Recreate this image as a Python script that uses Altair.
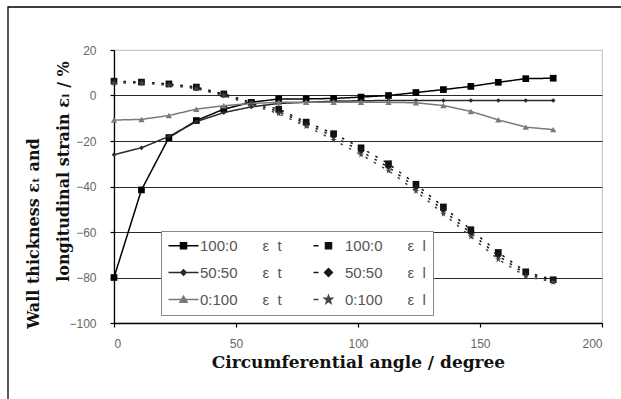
import altair as alt
import pandas as pd

# ---------------- data ----------------
angles = [0, 11.25, 22.5, 33.75, 45, 56.25, 67.5, 78.75, 90, 101.25,
          112.5, 123.75, 135, 146.25, 157.5, 168.75, 180]

t_100_0 = [-80, -41.5, -18.5, -11, -6, -3, -1.5, -1.5, -1.3, -0.7, 0, 1.3, 2.6, 4, 5.8, 7.4, 7.6]
l_100_0 = [6.3, 5.9, 5.1, 3.7, 0.7, -3, -6, -11.7, -16.8, -23, -30, -39, -49, -59, -69, -77.5, -81]
t_50_50 = [-26, -23, -18, -11.5, -7.5, -5, -3.5, -3, -2.5, -2.3, -2.2, -2.2, -2.2, -2.2, -2.2, -2.2, -2.2]
l_50_50 = [6, 5.8, 5, 3.3, 0.3, -3.5, -7, -12.5, -18, -24.5, -31.5, -40.5, -50.5, -60.5, -70.5, -78.5, -81.5]
t_0_100 = [-10.8, -10.5, -8.8, -6, -4.5, -3.5, -3, -3, -3, -3, -3, -3.2, -4.4, -7, -10.7, -13.9, -15]
l_0_100 = [5.5, 5.5, 4.5, 3, 0, -4, -8, -13.5, -19.5, -26, -33, -42, -52, -62, -72, -79.5, -82]

ratios = ["100:0", "100:0", "50:50", "50:50", "0:100", "0:100"]
kinds = ["t", "l", "t", "l", "t", "l"]
series_values = [t_100_0, l_100_0, t_50_50, l_50_50, t_0_100, l_0_100]

NB = "\u00a0"
names = [r + NB * 6 + "ε" + NB * 2 + k for r, k in zip(ratios, kinds)]

y_title_1 = "Wall thickness εₜ and"
y_title_2 = "longitudinal strain εₗ / %"
x_title = "Circumferential angle / degree"

rows = []
for name, vals in zip(names, series_values):
    for a, v in zip(angles, vals):
        rows.append({"angle": a, "value": v, "series": name})
df = pd.DataFrame(rows)

# ---------------- styles ----------------
colors = ["#000000", "#111111", "#2a2a2a", "#1a1a1a", "#7a7a7a", "#444444"]
dashes = [[1, 0], [2.5, 7], [1, 0], [2.5, 7], [1, 0], [2.5, 7]]
STAR = "M0,-1L0.25,-0.3L1,-0.3L0.4,0.15L0.6,0.9L0,0.45L-0.6,0.9L-0.4,0.15L-1,-0.3L-0.25,-0.3Z"
point_shapes = ["square", "square", "diamond", "diamond", "triangle-up", STAR]
point_sizes = [45, 45, 22, 40, 40, 40]

SQ = "M-1,-1H1V1H-1Z"
DI_S = "M0,-0.9L0.9,0L0,0.9L-0.9,0Z"
DI = "M0,-1.3L1.3,0L0,1.3L-1.3,0Z"
TRI = "M0,-1.1L1.2,0.9H-1.2Z"
STAR_L = "M0,-1.3L0.33,-0.4L1.3,-0.4L0.52,0.2L0.8,1.2L0,0.6L-0.8,1.2L-0.52,0.2L-1.3,-0.4L-0.33,-0.4Z"
FULL = "M-5,0H5"
DASH = "M-5,0H-3.3"
legend_paths = [FULL + SQ, DASH + SQ, FULL + DI_S, DASH + DI, FULL + TRI, DASH + STAR_L]

# legend is filled column by column: all εt first, then all εl
leg_order = [0, 2, 4, 1, 3, 5]
leg_names = [names[i] for i in leg_order]
leg_colors = [colors[i] for i in leg_order]
leg_paths = [legend_paths[i] for i in leg_order]

x_enc = alt.X(
    "angle:Q",
    scale=alt.Scale(domain=[0, 200], nice=False, zero=False),
    axis=alt.Axis(values=[0, 50, 100, 150, 200], title=x_title,
                  grid=False, tickSize=4, labelPadding=11, titlePadding=5),
)
y_scale = alt.Scale(domain=[-100, 20], nice=False, zero=False)
y_enc = alt.Y(
    "value:Q",
    scale=y_scale,
    axis=alt.Axis(values=[-100, -80, -60, -40, -20, 0, 20], title=y_title_2,
                  grid=True, tickSize=4, labelPadding=14,
                  titleFontSize=16, titleLimit=1000,
                  titleX=-51, titleY=121, titleBaseline="middle", titleAlign="center",
                  gridColor={"condition": {"test": "datum.value == 20", "value": "#c8c8c8"},
                             "value": "#2a2a2a"},
                  gridWidth=1.2),
)
# second left axis that only carries the first line of the y title
y_enc_title1 = alt.Y(
    "value:Q",
    scale=y_scale,
    axis=alt.Axis(orient="left", title=y_title_1, labels=False, ticks=False,
                  domain=False, grid=False,
                  titleFontSize=16, titleLimit=1000,
                  titleX=-81, titleY=183, titleBaseline="middle", titleAlign="center"),
)

base = alt.Chart(df)

frame = alt.Chart(pd.DataFrame({"f": [0]})).mark_rect(
    fill="transparent", stroke="#000000", strokeWidth=1.3
).encode(x=alt.value(-106), x2=alt.value(530), y=alt.value(-43), y2=alt.value(370))

leg = alt.Legend(
    title=None, orient="none", legendX=47, legendY=181, columns=2,
    symbolSize=36, symbolStrokeWidth=1.5, symbolOffset=8, labelOffset=9,
    labelFont="Liberation Sans", labelFontSize=15, labelColor="#555555",
    rowPadding=11, columnPadding=28, padding=7,
    fillColor="#ffffff", strokeColor="#888888",
)

legend_layer = base.transform_filter("false").mark_point(
    filled=True, size=36, strokeWidth=1.5, opacity=1
).encode(
    x=x_enc, y=y_enc,
    color=alt.Color("series:N", scale=alt.Scale(domain=leg_names, range=leg_colors), legend=leg),
    stroke=alt.Stroke("series:N", scale=alt.Scale(domain=leg_names, range=leg_colors), legend=leg),
    shape=alt.Shape("series:N", scale=alt.Scale(domain=leg_names, range=leg_paths), legend=leg),
)

series_layers = []
for name, col, dash, shp, sz in zip(names, colors, dashes, point_shapes, point_sizes):
    sub = base.transform_filter(alt.datum.series == name)
    series_layers.append(
        sub.mark_line(strokeWidth=1.5, color=col, strokeDash=dash).encode(x=x_enc, y=y_enc)
    )
    series_layers.append(
        sub.mark_point(filled=True, shape=shp, size=sz, opacity=1, color=col).encode(x=x_enc, y=y_enc)
    )

main = alt.layer(frame, legend_layer, *series_layers)

title1_layer = base.transform_filter("false").mark_point().encode(x=x_enc, y=y_enc_title1)

chart = alt.layer(main, title1_layer).resolve_scale(y="independent").resolve_axis(
    y="independent"
).properties(
    width=488, height=273,
    autosize=alt.AutoSizeParams(type="none"),
    padding={"left": 114, "top": 50, "right": 19, "bottom": 76},
    background="#ffffff",
).configure_view(
    stroke="#c8c8c8", strokeWidth=1.2
).configure_axis(
    domainColor="#000000", domainWidth=1.3, tickColor="#000000", tickWidth=1.2,
    labelFont="Liberation Sans", labelFontSize=12, labelColor="#666666",
    titleFont="DejaVu Serif", titleFontWeight="bold", titleFontSize=17, titleColor="#111111",
)

chart.save("out.html", embed_options={"renderer": "svg", "actions": False})
